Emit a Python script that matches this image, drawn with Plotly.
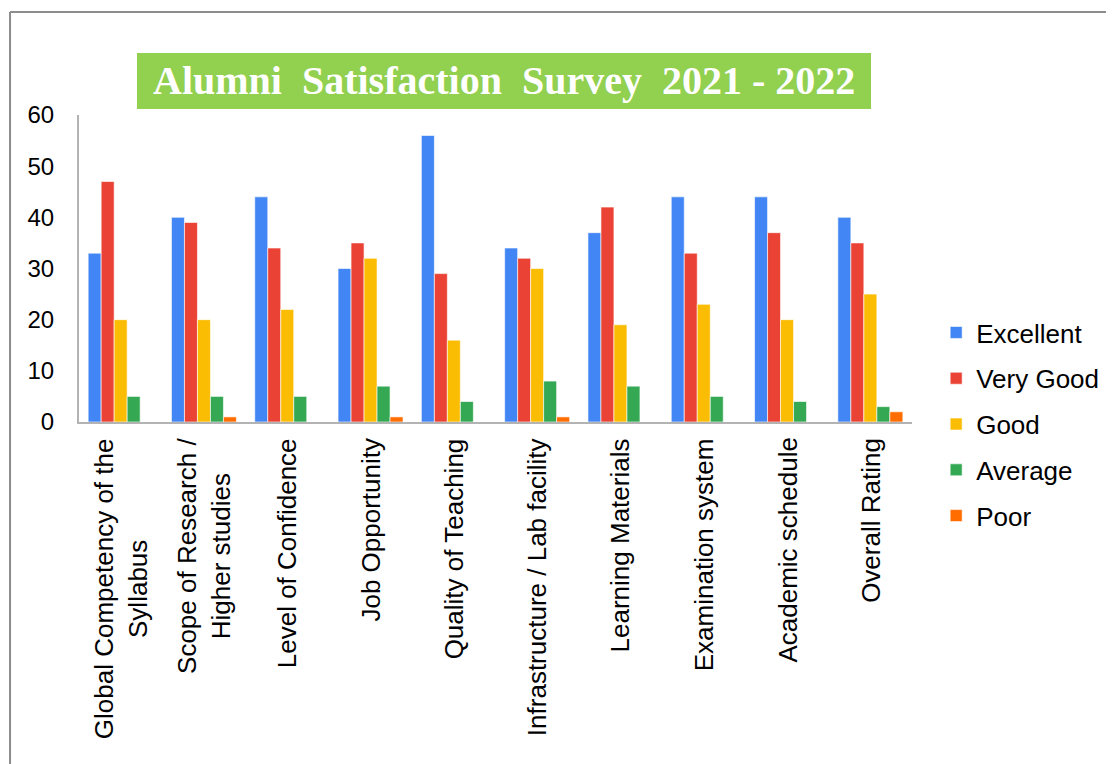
import plotly.graph_objects as go

categories = [
    "Global Competency of the<br>Syllabus",
    "Scope of Research /<br>Higher studies",
    "Level of Confidence",
    "Job Opportunity",
    "Quality of Teaching",
    "Infrastructure / Lab facility",
    "Learning Materials",
    "Examination system",
    "Academic schedule",
    "Overall Rating",
]
excellent = [33, 40, 44, 30, 56, 34, 37, 44, 44, 40]
very_good = [47, 39, 34, 35, 29, 32, 42, 33, 37, 35]
good = [20, 20, 22, 32, 16, 30, 19, 23, 20, 25]
average = [5, 5, 5, 7, 4, 8, 7, 5, 4, 3]
poor = [0, 1, 0, 1, 0, 1, 0, 0, 0, 2]

series = [
    ("Excellent", excellent, "#4285F4"),
    ("Very Good", very_good, "#EA4335"),
    ("Good", good, "#FBBC04"),
    ("Average", average, "#34A853"),
    ("Poor", poor, "#FF6D01"),
]

fig = go.Figure()
for name, vals, color in series:
    fig.add_trace(go.Bar(
        name=name, x=categories, y=vals,
        marker=dict(color=color, line=dict(color="rgba(255,255,255,0.6)", width=1)),
        legendgroup=name,
    ))

font_family = "Liberation Sans, Arial, sans-serif"

annotations = []
for c in categories:
    annotations.append(dict(
        x=c, xref="x", y=0, yref="paper", yshift=-14,
        text=c, textangle=-90, showarrow=False,
        xanchor="center", yanchor="top", align="center",
        font=dict(size=26, color="#000000", family=font_family),
    ))

annotations.append(dict(
    x=0.51, y=1.111, xref="paper", yref="paper",
    text="<b>Alumni  Satisfaction  Survey  2021 - 2022</b>",
    showarrow=False, xanchor="center", yanchor="middle",
    font=dict(size=40, color="#FFFFFF", family="Liberation Serif, Times New Roman, serif"),
))

shapes = [
    dict(type="rect", xref="paper", yref="paper", x0=0.0696, x1=0.9508, y0=1.0195, y1=1.2020,
         fillcolor="#92D050", line=dict(width=0), layer="below"),
    dict(type="line", xref="paper", yref="paper", x0=-0.0828, x1=1.3, y0=1.3355, y1=1.3355,
         line=dict(color="#8c8c8c", width=2)),
    dict(type="line", xref="paper", yref="paper", x0=-0.0828, x1=-0.0828, y0=-1.2, y1=1.3355,
         line=dict(color="#8c8c8c", width=2)),
]

fig.update_layout(
    width=1114, height=764,
    margin=dict(l=71, r=210, t=107, b=350),
    paper_bgcolor="white", plot_bgcolor="white",
    barmode="group", bargap=0.22, bargroupgap=0,
    font=dict(family=font_family, size=24, color="#000000"),
    showlegend=True,
    legend=dict(
        x=1.029, y=0.368, xanchor="left", yanchor="top",
        font=dict(size=26, color="#000000", family=font_family),
        tracegroupgap=9, bgcolor="rgba(0,0,0,0)",
    ),
    annotations=annotations,
    shapes=shapes,
)
fig.update_xaxes(
    showticklabels=False, showline=True, linecolor="#b3b3b3", linewidth=2,
    ticks="", showgrid=False, zeroline=False,
)
fig.update_yaxes(
    range=[0, 60], dtick=10, showline=True, linecolor="#b3b3b3", linewidth=2,
    ticks="", showgrid=False, zeroline=False, ticklabelstandoff=18,
    tickfont=dict(size=24, color="#000000", family=font_family),
)

fig.write_html("out.html")
